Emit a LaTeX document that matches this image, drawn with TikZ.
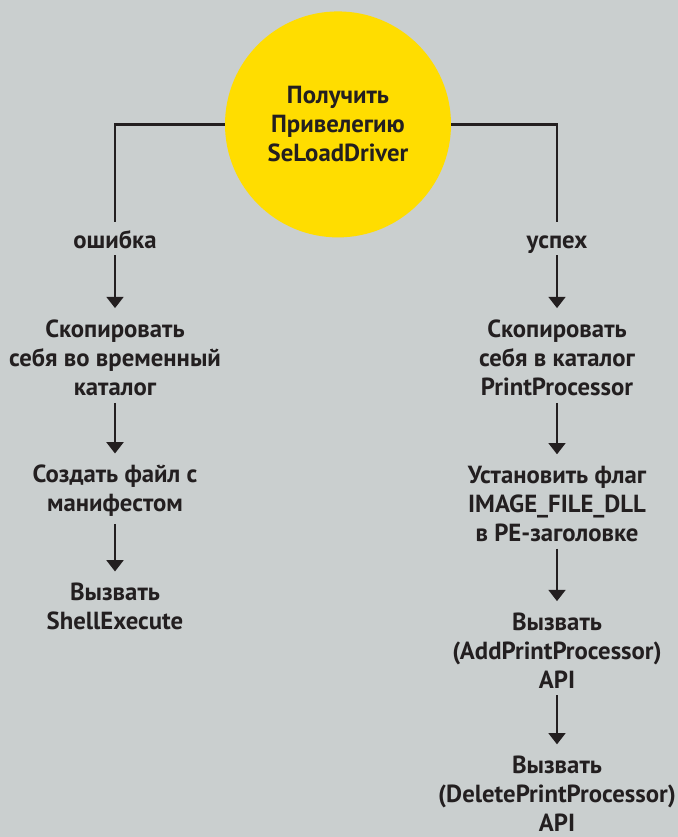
\documentclass[tikz,border=0pt]{standalone}
\usepackage{fontspec}
\setmainfont{PT Sans}
\usepackage{tikz}
\usetikzlibrary{arrows.meta, positioning}

\definecolor{bggray}{RGB}{202,207,207}
\definecolor{sunyellow}{RGB}{255,221,0}
\definecolor{inkblack}{RGB}{35,31,32}

\begin{document}
\begin{tikzpicture}[every node/.style={align=center, text=inkblack, inner sep=5pt,
        font=\fontsize{17.6}{20.6}\selectfont\bfseries},
    branch/.style={anchor=base, text height=12.5pt, text depth=0pt},
    flow/.style={-{Triangle[width=12pt, length=8pt]}, line width=1.6pt, draw=inkblack, shorten >=3pt}]
        \useasboundingbox[fill=bggray] (0,0) rectangle (16.95,-20.925);

        %---------------- Top: privilege ----------------%
        \node[circle, fill=sunyellow, inner sep=0pt, minimum size=5.65cm] (priv) at (8.45,-3.11)
            {Получить\\Привелегию\\SeLoadDriver};
        \node[branch] (fail) at (2.875,-6.2) {ошибка};
        \node[branch] (ok) at (13.925,-6.2) {успех};
        \draw[line width=1.6pt, inkblack, shorten >=1pt] (priv.west) -| (fail.north);
        \draw[line width=1.6pt, inkblack, shorten >=1pt] (priv.east) -| (ok.north);

        %---------------- Left: failure ----------------%
        \node (copyTmp) at (2.875,-8.94) {Скопировать\\себя во временный\\каталог};
        \node (manifest) at (2.875,-12.27) {Создать файл с\\манифестом};
        \node (shell) at (2.875,-15.16) {Вызвать\\ShellExecute};
        \draw[flow] (fail) -- (copyTmp);
        \draw[flow] (copyTmp) -- (manifest);
        \draw[flow] (manifest) -- (shell);

        %---------------- Right: success ----------------%
        \node (copyPP) at (13.925,-8.94) {Скопировать\\себя в каталог\\PrintProcessor};
        \node (dllFlag) at (13.925,-12.59) {Установить флаг\\IMAGE\_FILE\_DLL\\в PE-заголовке};
        \node (addApi) at (13.925,-16.26) {Вызвать\\(AddPrintProcessor)\\API};
        \node (delApi) at (13.925,-19.84) {Вызвать\\(DeletePrintProcessor)\\API};
        \draw[flow] (ok) -- (copyPP);
        \draw[flow] (copyPP) -- (dllFlag);
        \draw[flow] (dllFlag) -- (addApi);
        \draw[flow] (addApi) -- (delApi);
    \end{tikzpicture}
\end{document}
